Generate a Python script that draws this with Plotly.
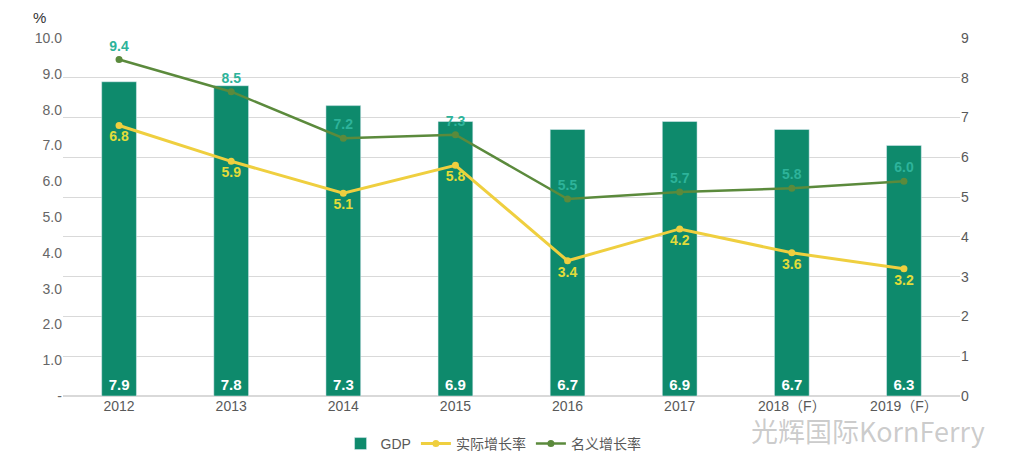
import plotly.graph_objects as go

YEARS = ["2012", "2013", "2014", "2015", "2016", "2017", "2018（F）", "2019（F）"]
GDP = [7.9, 7.8, 7.3, 6.9, 6.7, 6.9, 6.7, 6.3]
REAL_GROWTH = [6.8, 5.9, 5.1, 5.8, 3.4, 4.2, 3.6, 3.2]
NOMINAL_GROWTH = [9.4, 8.5, 7.2, 7.3, 5.5, 5.7, 5.8, 6.0]

LEFT_TICKS = [0, 1, 2, 3, 4, 5, 6, 7, 8, 9, 10]
LEFT_TEXT = ["-"] + [f"{v:.1f}" for v in LEFT_TICKS[1:]]
RIGHT_TICKS = list(range(10))

BAR = "#0E8A6C"
YELLOW = "#EFCF3F"
YELLOW_TXT = "#E2DC3A"
OLIVE = "#5B8A3C"
TEAL_TXT = "#2DB39A"
GREY = "#595959"
FONT = "Arial, Liberation Sans, Noto Sans CJK SC, sans-serif"

fig = go.Figure()
fig.add_trace(go.Bar(
    x=YEARS, y=GDP, name="GDP", marker_color=BAR, width=0.31,
    text=[f"{v:.1f}" for v in GDP], textposition="inside",
    insidetextanchor="start",
    textfont=dict(color="white", size=15, family=FONT, weight="bold"),
    yaxis="y",
))
fig.add_trace(go.Scatter(
    x=YEARS, y=REAL_GROWTH, name="实际增长率", mode="lines+markers+text",
    line=dict(color=YELLOW, width=3), marker=dict(size=7, color=YELLOW),
    text=[f"{v:.1f}" for v in REAL_GROWTH], textposition="bottom center",
    textfont=dict(color=YELLOW_TXT, size=14, family=FONT, weight="bold"),
    yaxis="y",
))
fig.add_trace(go.Scatter(
    x=YEARS, y=NOMINAL_GROWTH, name="名义增长率", mode="lines+markers+text",
    line=dict(color=OLIVE, width=2.5), marker=dict(size=7, color=OLIVE),
    text=[f"{v:.1f}" for v in NOMINAL_GROWTH], textposition="top center",
    textfont=dict(color=TEAL_TXT, size=14, family=FONT, weight="bold"),
    yaxis="y2",
))

# page body has an 8px margin, so the figure is shrunk and margins reduced
fig.update_layout(
    width=1010, height=464,
    paper_bgcolor="white", plot_bgcolor="white",
    margin=dict(l=55, r=58, t=30, b=69),
    font=dict(family=FONT, color=GREY, size=14),
    showlegend=True,
    legend=dict(orientation="h", x=0.48, xanchor="center", y=-0.134,
                yanchor="middle", font=dict(size=14, color=GREY),
                traceorder="normal"),
    xaxis=dict(showgrid=False, zeroline=False, showline=False,
               tickfont=dict(size=14, color=GREY)),
    yaxis=dict(side="right", range=[0, 9], tickvals=RIGHT_TICKS,
               showgrid=True, gridcolor="#D9D9D9", gridwidth=1,
               zeroline=True, zerolinecolor="#D9D9D9",
               tickfont=dict(size=14, color=GREY)),
    yaxis2=dict(side="left", overlaying="y", range=[0, 10],
                tickvals=LEFT_TICKS, ticktext=LEFT_TEXT, showgrid=False,
                zeroline=False, tickfont=dict(size=14, color="#666666")),
    annotations=[
        dict(text="%", xref="paper", yref="paper", x=-0.026, y=1.056,
             xanchor="center", yanchor="middle", showarrow=False,
             font=dict(size=15, color="#333333")),
        dict(text="光辉国际KornFerry", xref="paper", yref="paper",
             x=1.03, y=-0.095, xanchor="right", yanchor="middle",
             showarrow=False,
             font=dict(size=27, color="rgba(140,140,140,0.45)",
                       family="Noto Sans CJK SC")),
    ],
)

fig.write_html("out.html")
